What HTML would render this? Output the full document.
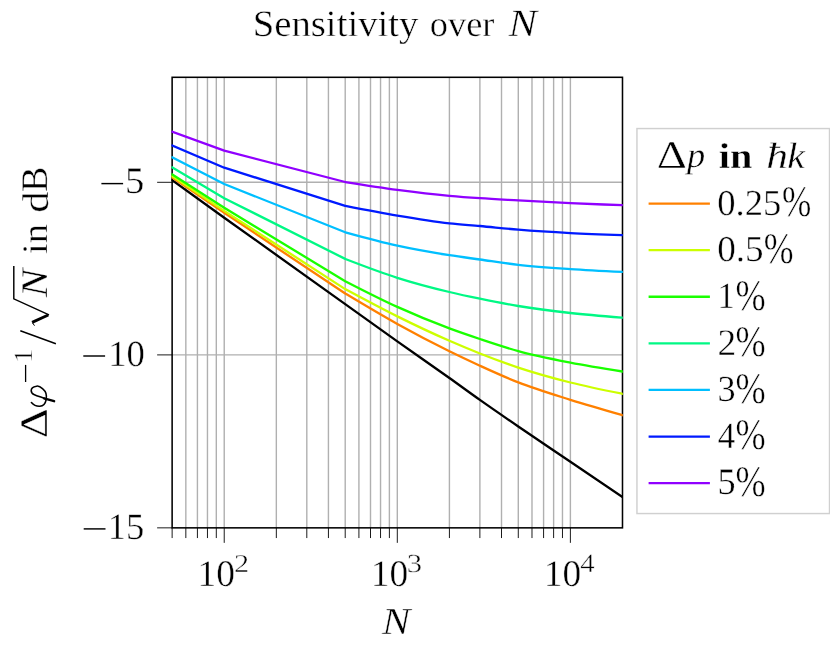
<!DOCTYPE html><html><head><meta charset="utf-8"><style>html,body{margin:0;padding:0;background:#fff}svg{display:block;will-change:transform}text{font-family:"Liberation Serif",serif;fill:#000;text-rendering:geometricPrecision;stroke:#fff;stroke-width:0.4px}</style></head><body>
<svg width="830" height="646" viewBox="0 0 830 646">
<rect width="830" height="646" fill="#fff"/>
<path d="M185.83 77.30V527.85M197.42 77.30V527.85M207.46 77.30V527.85M216.31 77.30V527.85M224.23 77.30V527.85M276.33 77.30V527.85M306.81 77.30V527.85M328.43 77.30V527.85M345.21 77.30V527.85M358.91 77.30V527.85M370.50 77.30V527.85M380.54 77.30V527.85M389.39 77.30V527.85M397.31 77.30V527.85M449.41 77.30V527.85M479.89 77.30V527.85M501.51 77.30V527.85M518.29 77.30V527.85M531.99 77.30V527.85M543.58 77.30V527.85M553.62 77.30V527.85M562.47 77.30V527.85M570.39 77.30V527.85M172.13 182.30H622.49M172.13 354.90H622.49" stroke="#b0b0b0" stroke-width="1.4" fill="none"/>
<path d="M172.13 527.85v10.2M185.83 527.85v10.2M197.42 527.85v10.2M207.46 527.85v10.2M216.31 527.85v10.2M224.23 527.85v15M276.33 527.85v10.2M306.81 527.85v10.2M328.43 527.85v10.2M345.21 527.85v10.2M358.91 527.85v10.2M370.50 527.85v10.2M380.54 527.85v10.2M389.39 527.85v10.2M397.31 527.85v15M449.41 527.85v10.2M479.89 527.85v10.2M501.51 527.85v10.2M518.29 527.85v10.2M531.99 527.85v10.2M543.58 527.85v10.2M553.62 527.85v10.2M562.47 527.85v10.2M570.39 527.85v15M172.13 182.30h-15M172.13 354.90h-15M172.13 527.85h-15" stroke="#000" stroke-width="0.9" fill="none"/>
<rect x="172.13" y="77.30" width="450.36" height="450.55" fill="none" stroke="#000" stroke-width="1.55"/>
<clipPath id="c"><rect x="171.38" y="77.30" width="451.41" height="450.55"/></clipPath><g clip-path="url(#c)" fill="none" stroke-width="2.3" stroke-linejoin="round">
<path d="M171.13 179.48L224.23 217.70L345.21 304.10C362.58 316.59 379.94 329.08 397.31 341.40C414.68 353.72 432.04 365.62 449.41 378.00C459.57 385.24 469.73 392.72 479.89 399.90C492.69 408.95 505.49 417.73 518.29 426.50C535.66 438.40 553.02 449.95 570.39 461.70C587.76 473.45 605.12 485.23 622.49 497.00l1 0.678" stroke="#000000"/>
<path d="M171.13 176.82L224.23 212.80L345.21 293.50C362.58 303.93 379.94 314.37 397.31 324.00C414.68 333.63 432.04 342.76 449.41 351.30C459.57 356.29 469.73 361.07 479.89 365.70C492.69 371.53 505.49 377.38 518.29 382.40C535.66 389.21 553.02 394.35 570.39 399.80C587.76 405.25 605.12 410.18 622.49 415.10l1 0.284" stroke="#FF8000"/>
<path d="M171.13 175.53L224.23 210.90L345.21 289.10C362.58 298.44 379.94 307.78 397.31 316.40C414.68 325.02 432.04 333.23 449.41 340.80C459.57 345.23 469.73 349.49 479.89 353.50C492.69 358.55 505.49 363.34 518.29 367.60C535.66 373.38 553.02 378.13 570.39 382.50C587.76 386.87 605.12 390.33 622.49 393.80l1 0.200" stroke="#CCFF00"/>
<path d="M171.13 173.66L224.23 207.80L345.21 281.20C362.58 290.12 379.94 299.03 397.31 306.90C414.68 314.77 432.04 321.94 449.41 328.40C459.57 332.18 469.73 335.61 479.89 339.00C492.69 343.27 505.49 347.58 518.29 351.10C535.66 355.88 553.02 359.20 570.39 362.60C587.76 366.00 605.12 368.75 622.49 371.50l1 0.158" stroke="#1AFF00"/>
<path d="M171.13 166.71L224.23 198.20L345.21 258.90C362.58 265.59 379.94 272.28 397.31 277.80C414.68 283.32 432.04 287.84 449.41 292.00C459.57 294.43 469.73 296.60 479.89 298.70C492.69 301.35 505.49 303.87 518.29 306.00C535.66 308.89 553.02 311.05 570.39 313.00C587.76 314.95 605.12 316.32 622.49 317.70l1 0.079" stroke="#00F884"/>
<path d="M171.13 156.69L224.23 184.00L345.21 232.30C362.58 237.09 379.94 241.88 397.31 245.70C414.68 249.52 432.04 252.49 449.41 255.20C459.57 256.79 469.73 258.08 479.89 259.50C492.69 261.29 505.49 263.33 518.29 264.80C535.66 266.79 553.02 267.92 570.39 269.10C587.76 270.28 605.12 271.09 622.49 271.90l1 0.047" stroke="#00BFFF"/>
<path d="M171.13 144.97L224.23 167.70L345.21 205.80C362.58 209.24 379.94 212.68 397.31 215.60C414.68 218.52 432.04 221.38 449.41 223.30C459.57 224.42 469.73 225.07 479.89 226.00C492.69 227.18 505.49 228.64 518.29 229.70C535.66 231.14 553.02 232.20 570.39 233.10C587.76 234.00 605.12 234.55 622.49 235.10l1 0.032" stroke="#001AFF"/>
<path d="M171.13 131.44L224.23 150.70L345.21 182.00C362.58 184.75 379.94 187.50 397.31 189.80C414.68 192.10 432.04 194.20 449.41 195.80C459.57 196.74 469.73 197.50 479.89 198.20C492.69 199.09 505.49 199.69 518.29 200.40C535.66 201.37 553.02 202.42 570.39 203.20C587.76 203.98 605.12 204.54 622.49 205.10l1 0.032" stroke="#9000FF"/>
</g>
<rect x="636.95" y="128.55" width="192.55" height="385" fill="#fff" stroke="#d0d0d0" stroke-width="1.45"/>
<path d="M648.6 203.6H709.9" stroke="#FF8000" stroke-width="2.3"/>
<path d="M648.6 250.2H709.9" stroke="#CCFF00" stroke-width="2.3"/>
<path d="M648.6 296.75H709.9" stroke="#1AFF00" stroke-width="2.3"/>
<path d="M648.6 343.45H709.9" stroke="#00F884" stroke-width="2.3"/>
<path d="M648.6 389.84H709.9" stroke="#00BFFF" stroke-width="2.3"/>
<path d="M648.6 436.55H709.9" stroke="#001AFF" stroke-width="2.3"/>
<path d="M648.6 483.07H709.9" stroke="#9000FF" stroke-width="2.3"/>
<path d="M101.4 183.6H123.1" stroke="#000" stroke-width="1.45"/>
<path d="M83.3 356.0H105.1" stroke="#000" stroke-width="1.45"/>
<path d="M83.7 528.9H105.5" stroke="#000" stroke-width="1.45"/>
<text transform="translate(252.67 36.30) scale(1.0388 1.0000)" font-size="37.3" >Sensitivity</text>
<text transform="translate(429.79 36.30) scale(1.0097 1.0000)" font-size="36.0" >over</text>
<text transform="translate(508.50 36.43) scale(1.1237 1.0152)" font-size="38" font-style="italic">N</text>
<text transform="translate(382.00 633.93) scale(1.1163 1.0071)" font-size="38" font-style="italic">N</text>
<text transform="translate(125.04 193.15) scale(1.0483 1.0155)" font-size="36.7" >5</text>
<text transform="translate(108.13 365.55) scale(0.9984 1.0000)" font-size="36.7" >10</text>
<text transform="translate(107.84 538.60) scale(0.9953 1.0144)" font-size="36.7" >15</text>
<text transform="translate(197.56 585.64) scale(1.0205 1.0204)" font-size="36.7" >10</text>
<text transform="translate(233.99 571.93) scale(1.2103 1.0277)" font-size="25" >2</text>
<text transform="translate(370.71 585.64) scale(1.0205 1.0204)" font-size="36.7" >10</text>
<text transform="translate(406.71 572.17) scale(1.2300 1.0424)" font-size="25" >3</text>
<text transform="translate(543.71 585.64) scale(1.0205 1.0204)" font-size="36.7" >10</text>
<text transform="translate(580.28 572.03) scale(1.1516 1.0419)" font-size="25" >4</text>
<text transform="translate(717.20 214.83) scale(0.9980 0.9949)" font-size="36.7" >0.25</text>
<text transform="translate(781.88 216.45) scale(0.9586 1.1898)" font-size="36.7" >%</text>
<text transform="translate(717.18 261.43) scale(1.0129 0.9949)" font-size="36.7" >0.5</text>
<text transform="translate(763.86 263.05) scale(0.9766 1.1898)" font-size="36.7" >%</text>
<text transform="translate(717.62 307.98) scale(0.9426 1.0052)" font-size="36.7" >1</text>
<text transform="translate(735.44 309.60) scale(0.9874 1.1898)" font-size="36.7" >%</text>
<text transform="translate(717.61 355.18) scale(1.0226 1.0208)" font-size="36.7" >2</text>
<text transform="translate(735.44 356.30) scale(0.9874 1.1898)" font-size="36.7" >%</text>
<text transform="translate(717.45 401.19) scale(0.9882 1.0000)" font-size="36.7" >3</text>
<text transform="translate(735.44 402.69) scale(0.9874 1.1898)" font-size="36.7" >%</text>
<text transform="translate(717.77 447.78) scale(0.9493 1.0052)" font-size="36.7" >4</text>
<text transform="translate(735.44 449.40) scale(0.9874 1.1898)" font-size="36.7" >%</text>
<text transform="translate(717.38 494.42) scale(0.9862 1.0155)" font-size="36.7" >5</text>
<text transform="translate(735.44 495.92) scale(0.9874 1.1898)" font-size="36.7" >%</text>
<text transform="translate(656.70 167.63) scale(1.2329 1.0343)" font-size="38" >Δ</text>
<text transform="translate(687.09 167.31) scale(1.0094 0.9856)" font-size="36" font-style="italic">p</text>
<text transform="translate(718.82 167.72) scale(1.1193 0.9990)" font-size="36" font-weight="bold">in</text>
<text transform="translate(766.23 168.02) scale(1.1803 0.9931)" font-size="37" font-style="italic">ħ</text>
<text transform="translate(787.16 168.02) scale(1.0710 0.9931)" font-size="37" font-style="italic">k</text>
<g transform="translate(47.1 436) rotate(-90)">
<text transform="translate(-2.19 0.03) scale(1.2235 1.0303)" font-size="38" >Δ</text>
<text transform="translate(73.49 -14.87) scale(1.0588 1.0523)" font-size="25" >1</text>
<text transform="translate(138.80 0.02) scale(1.1200 0.9909)" font-size="38" font-style="italic">N</text>
<text transform="translate(181.96 0.00) scale(1.0698 1.0000)" font-size="36" >in</text>
<text transform="translate(223.14 0.47) scale(1.1721 1.0218)" font-size="36.5" >d</text>
<text transform="translate(244.05 -0.05) scale(1.0034 0.9879)" font-size="38" >B</text>
<path d="M33.5 -15.7C31 -13.5 29.5 -10.5 29.75 -7.25C30 -4 33 -1.6 36.2 -1.0C39 -0.4 44 -0.6 47.1 -4.3C49.5 -7 50.3 -9 49.8 -10.7C49.3 -13.5 47.5 -15.9 45.6 -15.9C43.5 -15.9 42.3 -14.8 41.6 -13.2C40 -9.5 38.5 -5 37.2 -1.8" stroke="#000" stroke-width="1.6" fill="none" stroke-linecap="round"/>
<path d="M37.6 -3.0L34.8 7.0" stroke="#000" stroke-width="2.4" fill="none" stroke-linecap="round"/>
<path d="M54.0 -21.5H71.1" stroke="#000" stroke-width="1.3"/>
<path d="M92.3 8.8L105.3 -26.8" stroke="#000" stroke-width="1.45" fill="none"/>
<path d="M110.3 -12.6L113.2 -14.6" stroke="#000" stroke-width="1.0" fill="none"/>
<path d="M113.6 -15.0L121.0 1.2" stroke="#000" stroke-width="2.9" fill="none"/>
<path d="M121.1 1.9L137.2 -33.3H170.1" stroke="#000" stroke-width="1.45" fill="none" stroke-linejoin="miter"/>
</g>
</svg></body></html>
